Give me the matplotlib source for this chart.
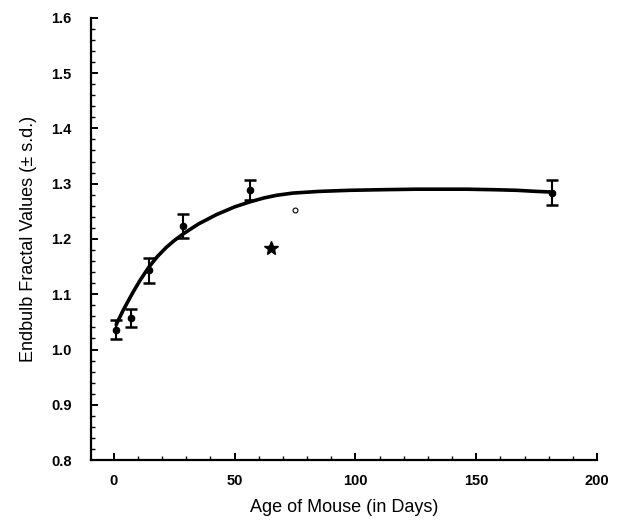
import matplotlib.pyplot as plt

plt.rcParams["font.family"] = ["Liberation Sans", "DejaVu Sans"]

# Mean endbulb fractal values by age (days), with s.d.
ages = [1, 7, 14.5, 28.5, 56.5, 181.5]
fractal_means = [1.036, 1.057, 1.143, 1.223, 1.289, 1.284]
fractal_sd = [0.017, 0.017, 0.022, 0.022, 0.018, 0.022]

# Fitted curve
curve_days = [1, 4, 8, 11, 14.5, 18, 21.8, 25, 28.7, 35, 42.5, 50, 56.3, 62,
              67.4, 74.2, 85, 97.7, 110, 125.3, 146, 158, 166.7, 175, 180.5]
curve_values = [1.045, 1.072, 1.104, 1.126, 1.149, 1.168, 1.185, 1.197, 1.209,
                1.227, 1.244, 1.258, 1.267, 1.274, 1.279, 1.283, 1.286, 1.288,
                1.289, 1.290, 1.290, 1.289, 1.288, 1.286, 1.285]

# Extra markers
star_day, star_value = [65], [1.184]
open_day, open_value = [75], [1.253]

x_ticks = [0, 50, 100, 150, 200]
y_ticks = [0.8, 0.9, 1.0, 1.1, 1.2, 1.3, 1.4, 1.5, 1.6]

fig = plt.figure(figsize=(6.18, 5.24), dpi=100)
ax = fig.add_axes([0.147, 0.122, 0.819, 0.844])

ax.plot(curve_days, curve_values, color="black", lw=2.6,
        solid_capstyle="round", solid_joinstyle="round")
ax.errorbar(ages, fractal_means, yerr=fractal_sd, fmt="o", color="black",
            ms=4.5, elinewidth=1.5, capsize=4.5, capthick=1.8)
ax.plot(star_day, star_value, marker="*", color="black", ms=10, ls="none")
ax.plot(open_day, open_value, marker="o", mfc="white", mec="black",
        mew=0.8, ms=3.5, ls="none")

ax.set_xlim(-9.5, 200)
ax.set_ylim(0.8, 1.6)
ax.set_xticks(x_ticks)
ax.set_yticks(y_ticks)
ax.set_xticks(range(0, 201, 10), minor=True)
ax.set_yticks([0.8 + 0.02 * i for i in range(41)], minor=True)
ax.set_yticklabels([f"{v:.1f}" for v in y_ticks])

for side in ["top", "right"]:
    ax.spines[side].set_visible(False)
for side in ["left", "bottom"]:
    ax.spines[side].set_linewidth(1.6)

ax.tick_params(which="major", direction="in", length=5, width=1.4,
               labelsize=10.5)
ax.tick_params(which="minor", direction="in", length=3, width=1.0)
ax.tick_params(axis="y", which="major", pad=14)
ax.tick_params(axis="x", which="major", pad=10)
for label in ax.get_xticklabels() + ax.get_yticklabels():
    label.set_fontweight("bold")

ax.set_xlabel("Age of Mouse (in Days)", fontsize=13, labelpad=8)
ax.set_ylabel("Endbulb Fractal Values (\u00b1 s.d.)", fontsize=13, labelpad=10)

fig.savefig("out.png", dpi=100)
